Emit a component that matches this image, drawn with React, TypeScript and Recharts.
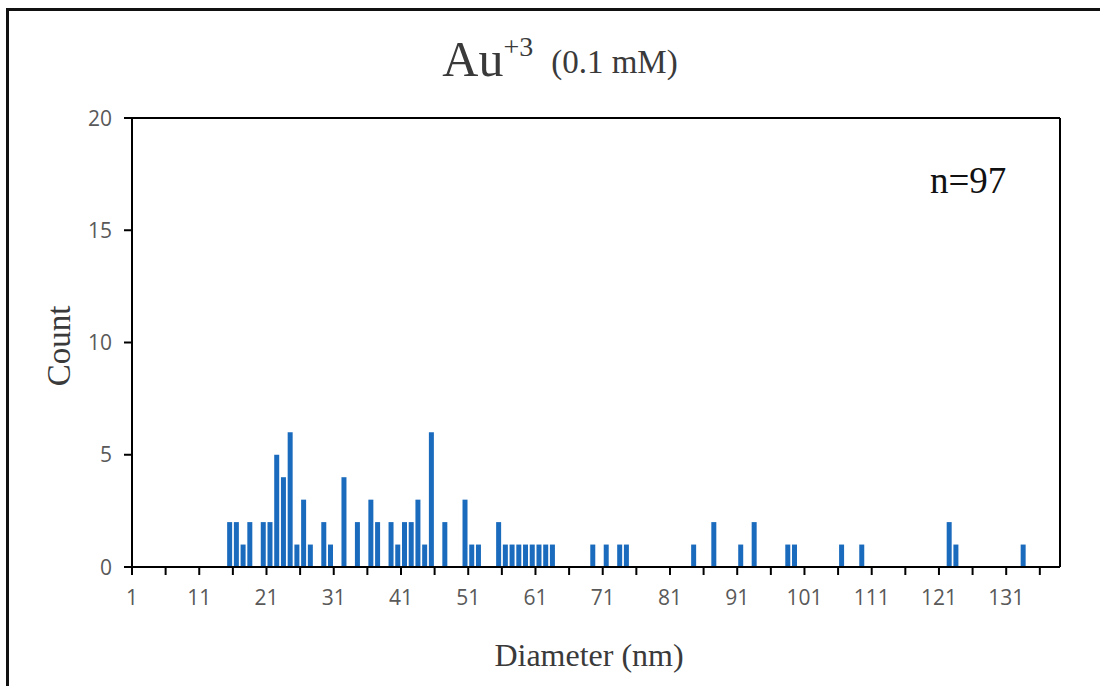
import { BarChart, Bar, XAxis, YAxis, ReferenceLine } from "recharts";

// diameter bins (nm) and how many particles fell in each
const diameters = [
  15, 16, 17, 18, 20, 21, 22, 23, 24, 25, 26, 27, 29, 30, 32, 34, 36, 37, 39, 40,
  41, 42, 43, 44, 45, 47, 50, 51, 52, 55, 56, 57, 58, 59, 60, 61, 62, 63, 69, 71,
  73, 74, 84, 87, 91, 93, 98, 99, 106, 109, 122, 123, 133,
];
const counts = [
  2, 2, 1, 2, 2, 2, 5, 4, 6, 1, 3, 1, 2, 1, 4, 2, 3, 2, 2, 1,
  2, 2, 3, 1, 6, 2, 3, 1, 1, 2, 1, 1, 1, 1, 1, 1, 1, 1, 1, 1,
  1, 1, 1, 2, 1, 2, 1, 1, 1, 1, 2, 1, 1,
];

// each bin spans d-0.5..d+0.5; ticks sit on bin edges, labelled every 10
const xTicks = Array.from({ length: 28 }, (_, i) => 0.5 + i * 5);
const yTicks = [0, 5, 10, 15, 20];

const data = diameters.map((d, i) => ({ d, count: counts[i] }));

const serif = "'Liberation Serif', 'Times New Roman', serif";
const sans = "'Open Sans', sans-serif";

const XTick = ({ x, y, payload }: any) => {
  const v = payload.value;
  if ((v - 0.5) % 10 !== 0) return null;
  return (
    <text x={x} y={y} dy="0.75em" textAnchor="middle" fill="#595959" fontSize={21} fontFamily={sans}>
      {v + 0.5}
    </text>
  );
};

const YTick = ({ x, y, payload }: any) => (
  <text x={x} y={y} dy="0.36em" textAnchor="end" fill="#595959" fontSize={21} fontFamily={sans}>
    {payload.value}
  </text>
);

export default function App() {
  return (
    <div
      style={{
        position: "absolute",
        left: 0,
        top: 0,
        width: 1100,
        height: 686,
        background: "#fff",
        overflow: "hidden",
      }}
    >
      <div
        style={{
          position: "absolute",
          left: 6,
          top: 8,
          width: 1100,
          height: 700,
          borderTop: "3px solid #111",
          borderLeft: "3px solid #111",
        }}
      />
      <BarChart
        width={1100}
        height={686}
        data={data}
        margin={{ top: 118, right: 40, bottom: 79, left: 72 }}
      >
        <XAxis
          dataKey="d"
          type="number"
          domain={[0.5, 138.5]}
          ticks={xTicks}
          interval={0}
          height={40}
          tickSize={8}
          tickMargin={14}
          tick={<XTick />}
          axisLine={{ stroke: "#000", strokeWidth: 2 }}
          tickLine={{ stroke: "#000", strokeWidth: 2 }}
        />
        <YAxis
          type="number"
          domain={[0, 20]}
          ticks={yTicks}
          interval={0}
          width={60}
          tickSize={8}
          tickMargin={12}
          tick={<YTick />}
          axisLine={{ stroke: "#000", strokeWidth: 2 }}
          tickLine={{ stroke: "#000", strokeWidth: 2 }}
        />
        <ReferenceLine y={20} stroke="#000" strokeWidth={2} />
        <ReferenceLine x={138.5} stroke="#000" strokeWidth={2} />
        <Bar dataKey="count" fill="#1a6bbd" barSize={5} isAnimationActive={false} />
      </BarChart>

      <div
        style={{
          position: "absolute",
          left: 10,
          width: 1100,
          top: 30,
          textAlign: "center",
          fontFamily: serif,
          color: "#3a3a3a",
          whiteSpace: "nowrap",
        }}
      >
        <span style={{ fontSize: 50 }}>Au</span>
        <span style={{ fontSize: 28, verticalAlign: 20 }}>+3</span>
        <span style={{ fontSize: 33, marginLeft: 18, verticalAlign: 3 }}>(0.1 mM)</span>
      </div>
      <div
        style={{
          position: "absolute",
          left: 930,
          top: 159,
          fontFamily: serif,
          fontSize: 37,
          color: "#111",
        }}
      >
        n=97
      </div>
      <div
        style={{
          position: "absolute",
          left: 59,
          top: 346,
          transform: "translate(-50%, -50%) rotate(-90deg)",
          fontFamily: serif,
          fontSize: 33,
          color: "#3a3a3a",
          whiteSpace: "nowrap",
        }}
      >
        Count
      </div>
      <div
        style={{
          position: "absolute",
          left: 0,
          width: 1178,
          top: 637,
          textAlign: "center",
          fontFamily: serif,
          fontSize: 32,
          color: "#3a3a3a",
          whiteSpace: "nowrap",
        }}
      >
        Diameter (nm)
      </div>
    </div>
  );
}
